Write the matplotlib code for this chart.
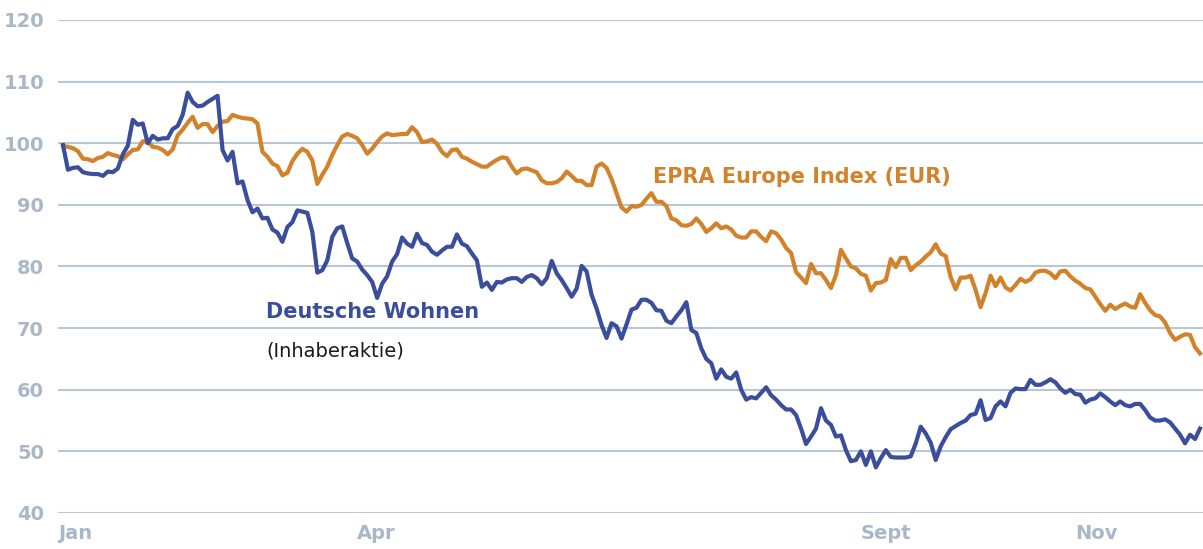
import numpy as np
import matplotlib
matplotlib.use("Agg")
import matplotlib.pyplot as plt

# ==== Data (indexed, start = 100) ====
MONTHS = ["Jan", "Apr", "Sept", "Nov"]
MONTH_POS = [-1, 59, 160, 203]
Y_TICKS = [40, 50, 60, 70, 80, 90, 100, 110, 120]

deutsche_wohnen = [
    99.7, 95.7, 96.0, 96.1, 95.3, 95.1, 95.0, 95.0, 94.7, 95.4,
    95.3, 95.9, 98.2, 99.6, 103.8, 103.0, 103.2, 100.0, 101.2, 100.6,
    100.8, 100.8, 102.3, 102.8, 104.6, 108.2, 106.7, 106.0, 106.1, 106.7,
    107.2, 107.7, 98.9, 97.2, 98.6, 93.5, 93.8, 90.8, 88.8, 89.4,
    87.8, 87.9, 86.0, 85.5, 84.0, 86.4, 87.2, 89.1, 88.9, 88.7,
    85.6, 79.0, 79.4, 81.0, 84.8, 86.2, 86.5, 83.8, 81.3, 80.8,
    79.5, 78.6, 77.5, 74.9, 77.2, 78.4, 80.8, 82.0, 84.7, 83.7,
    83.2, 85.3, 83.8, 83.5, 82.4, 81.9, 82.6, 83.2, 83.2, 85.2,
    83.7, 83.3, 82.1, 81.0, 76.7, 77.4, 76.2, 77.5, 77.4, 77.9,
    78.1, 78.1, 77.5, 78.3, 78.6, 78.1, 77.1, 78.1, 80.9, 78.9,
    77.8, 76.5, 75.1, 76.4, 80.1, 79.2, 75.4, 73.2, 70.5, 68.4,
    70.8, 70.3, 68.3, 70.6, 73.0, 73.3, 74.6, 74.6, 74.1, 72.9,
    72.8, 71.2, 70.8, 71.9, 72.9, 74.2, 69.7, 69.2, 66.7, 65.0,
    64.3, 61.8, 63.3, 62.1, 61.8, 62.8, 60.0, 58.4, 58.8, 58.6,
    59.5, 60.4, 59.1, 58.4, 57.5, 56.8, 56.8, 55.9, 53.7, 51.2,
    52.4, 53.7, 57.0, 55.0, 54.3, 52.4, 52.6, 50.2, 48.4, 48.6,
    50.0, 47.8, 50.0, 47.4, 48.9, 50.2, 49.1, 49.0, 49.0, 49.0,
    49.2, 51.3, 54.0, 52.9, 51.4, 48.6, 50.8, 52.3, 53.6, 54.1,
    54.6, 55.0, 55.9, 56.1, 58.3, 55.1, 55.4, 57.3, 58.1, 57.3,
    59.5, 60.2, 60.1, 60.1, 61.6, 60.8, 60.8, 61.2, 61.7, 61.2,
    60.2, 59.5, 60.0, 59.3, 59.2, 57.9, 58.4, 58.6, 59.4, 58.8,
    58.1, 57.5, 58.1, 57.5, 57.3, 57.7, 57.7, 56.7, 55.5, 55.0,
    55.0, 55.2, 54.7, 53.7, 52.7, 51.3, 52.7, 52.0, 53.7,
]

epra_europe = [
    99.6, 99.4, 99.2, 98.7, 97.5, 97.4, 97.1, 97.6, 97.8, 98.4,
    98.1, 97.9, 97.4, 98.2, 98.9, 99.0, 100.3, 100.3, 99.4, 99.3,
    98.9, 98.2, 99.0, 101.3, 102.2, 103.3, 104.3, 102.5, 103.1, 103.1,
    101.8, 102.8, 103.5, 103.6, 104.6, 104.3, 104.1, 104.0, 103.9, 103.2,
    98.6, 97.8, 96.7, 96.3, 94.8, 95.2, 97.1, 98.3, 99.1, 98.6,
    97.2, 93.4, 94.9, 96.2, 98.1, 99.7, 101.1, 101.5, 101.2, 100.8,
    99.7, 98.3, 99.1, 100.2, 101.1, 101.6, 101.3, 101.4, 101.5, 101.5,
    102.6, 101.8, 100.2, 100.3, 100.6, 99.9, 98.6, 97.9, 98.9, 99.0,
    97.8, 97.5, 97.0, 96.6, 96.2, 96.2, 96.8, 97.3, 97.7, 97.6,
    96.2, 95.1, 95.8, 95.9, 95.6, 95.3, 94.0, 93.5, 93.5, 93.7,
    94.3, 95.4, 94.7, 93.9, 93.9, 93.2, 93.2, 96.2, 96.7, 96.0,
    94.2, 91.9, 89.6, 88.9, 89.8, 89.7, 90.0, 91.0, 91.9, 90.5,
    90.5, 89.8, 87.8, 87.5, 86.7, 86.6, 86.9, 87.8, 86.9, 85.6,
    86.2, 87.0, 86.2, 86.5, 86.0, 85.0, 84.7, 84.7, 85.7, 85.7,
    84.8, 84.1, 85.7, 85.4, 84.4, 83.0, 82.2, 79.1, 78.2, 77.3,
    80.4, 78.9, 78.9, 77.8, 76.5, 78.6, 82.7, 81.3, 80.0, 79.7,
    78.8, 78.5, 76.1, 77.3, 77.4, 77.8, 81.2, 79.9, 81.4, 81.4,
    79.4, 80.2, 80.8, 81.6, 82.3, 83.6, 82.1, 81.7, 78.3, 76.3,
    78.2, 78.2, 78.5, 76.2, 73.4, 75.7, 78.5, 76.8, 78.2, 76.6,
    76.1, 77.0, 78.0, 77.5, 77.9, 79.0, 79.3, 79.3, 78.9, 78.1,
    79.2, 79.3, 78.4, 77.7, 77.2, 76.5, 76.3, 75.1, 73.9, 72.8,
    73.8, 73.1, 73.6, 74.0, 73.5, 73.3, 75.5, 74.1, 72.9, 72.1,
    71.9, 70.9, 69.2, 68.1, 68.6, 69.0, 68.9, 66.9, 65.9,
]

# ==== Styling ====
BLUE = "#3a4e9b"
ORANGE = "#d3822c"
GRID = "#b9c6d4"
TICK = "#a9b8c8"

fig = plt.figure(figsize=(12.03, 5.49), dpi=100)
ax = fig.add_axes([0.0482, 0.0656, 0.9518, 0.898])

for y in Y_TICKS:
    ax.axhline(y, color=GRID, lw=1.5, zorder=0)

ax.plot(np.arange(len(epra_europe)), epra_europe, color=ORANGE, lw=3,
        solid_joinstyle="round", zorder=2)
ax.plot(np.arange(len(deutsche_wohnen)), deutsche_wohnen, color=BLUE, lw=3,
        solid_joinstyle="round", zorder=3)

ax.set_xlim(-0.4, 228.6)
ax.set_ylim(40, 120)

ax.set_yticks(Y_TICKS)
ax.set_yticklabels([str(v) for v in Y_TICKS], color=TICK, fontsize=14,
                   fontweight="bold")
ax.set_xticks(MONTH_POS)
ax.set_xticklabels(MONTHS, color=TICK, fontsize=14, fontweight="bold",
                   ha="left")
ax.tick_params(length=0, pad=8)
ax.tick_params(axis="y", pad=10)
for s in ax.spines.values():
    s.set_visible(False)

ax.text(118.4, 94.5, "EPRA Europe Index (EUR)", color=ORANGE, fontsize=15,
        fontweight="bold", va="center", ha="left")
ax.text(40.8, 72.6, "Deutsche Wohnen", color=BLUE, fontsize=15,
        fontweight="bold", va="center", ha="left")
ax.text(40.8, 66.3, "(Inhaberaktie)", color="#1a1a1a", fontsize=14,
        va="center", ha="left")

fig.savefig("out.png", dpi=100)
